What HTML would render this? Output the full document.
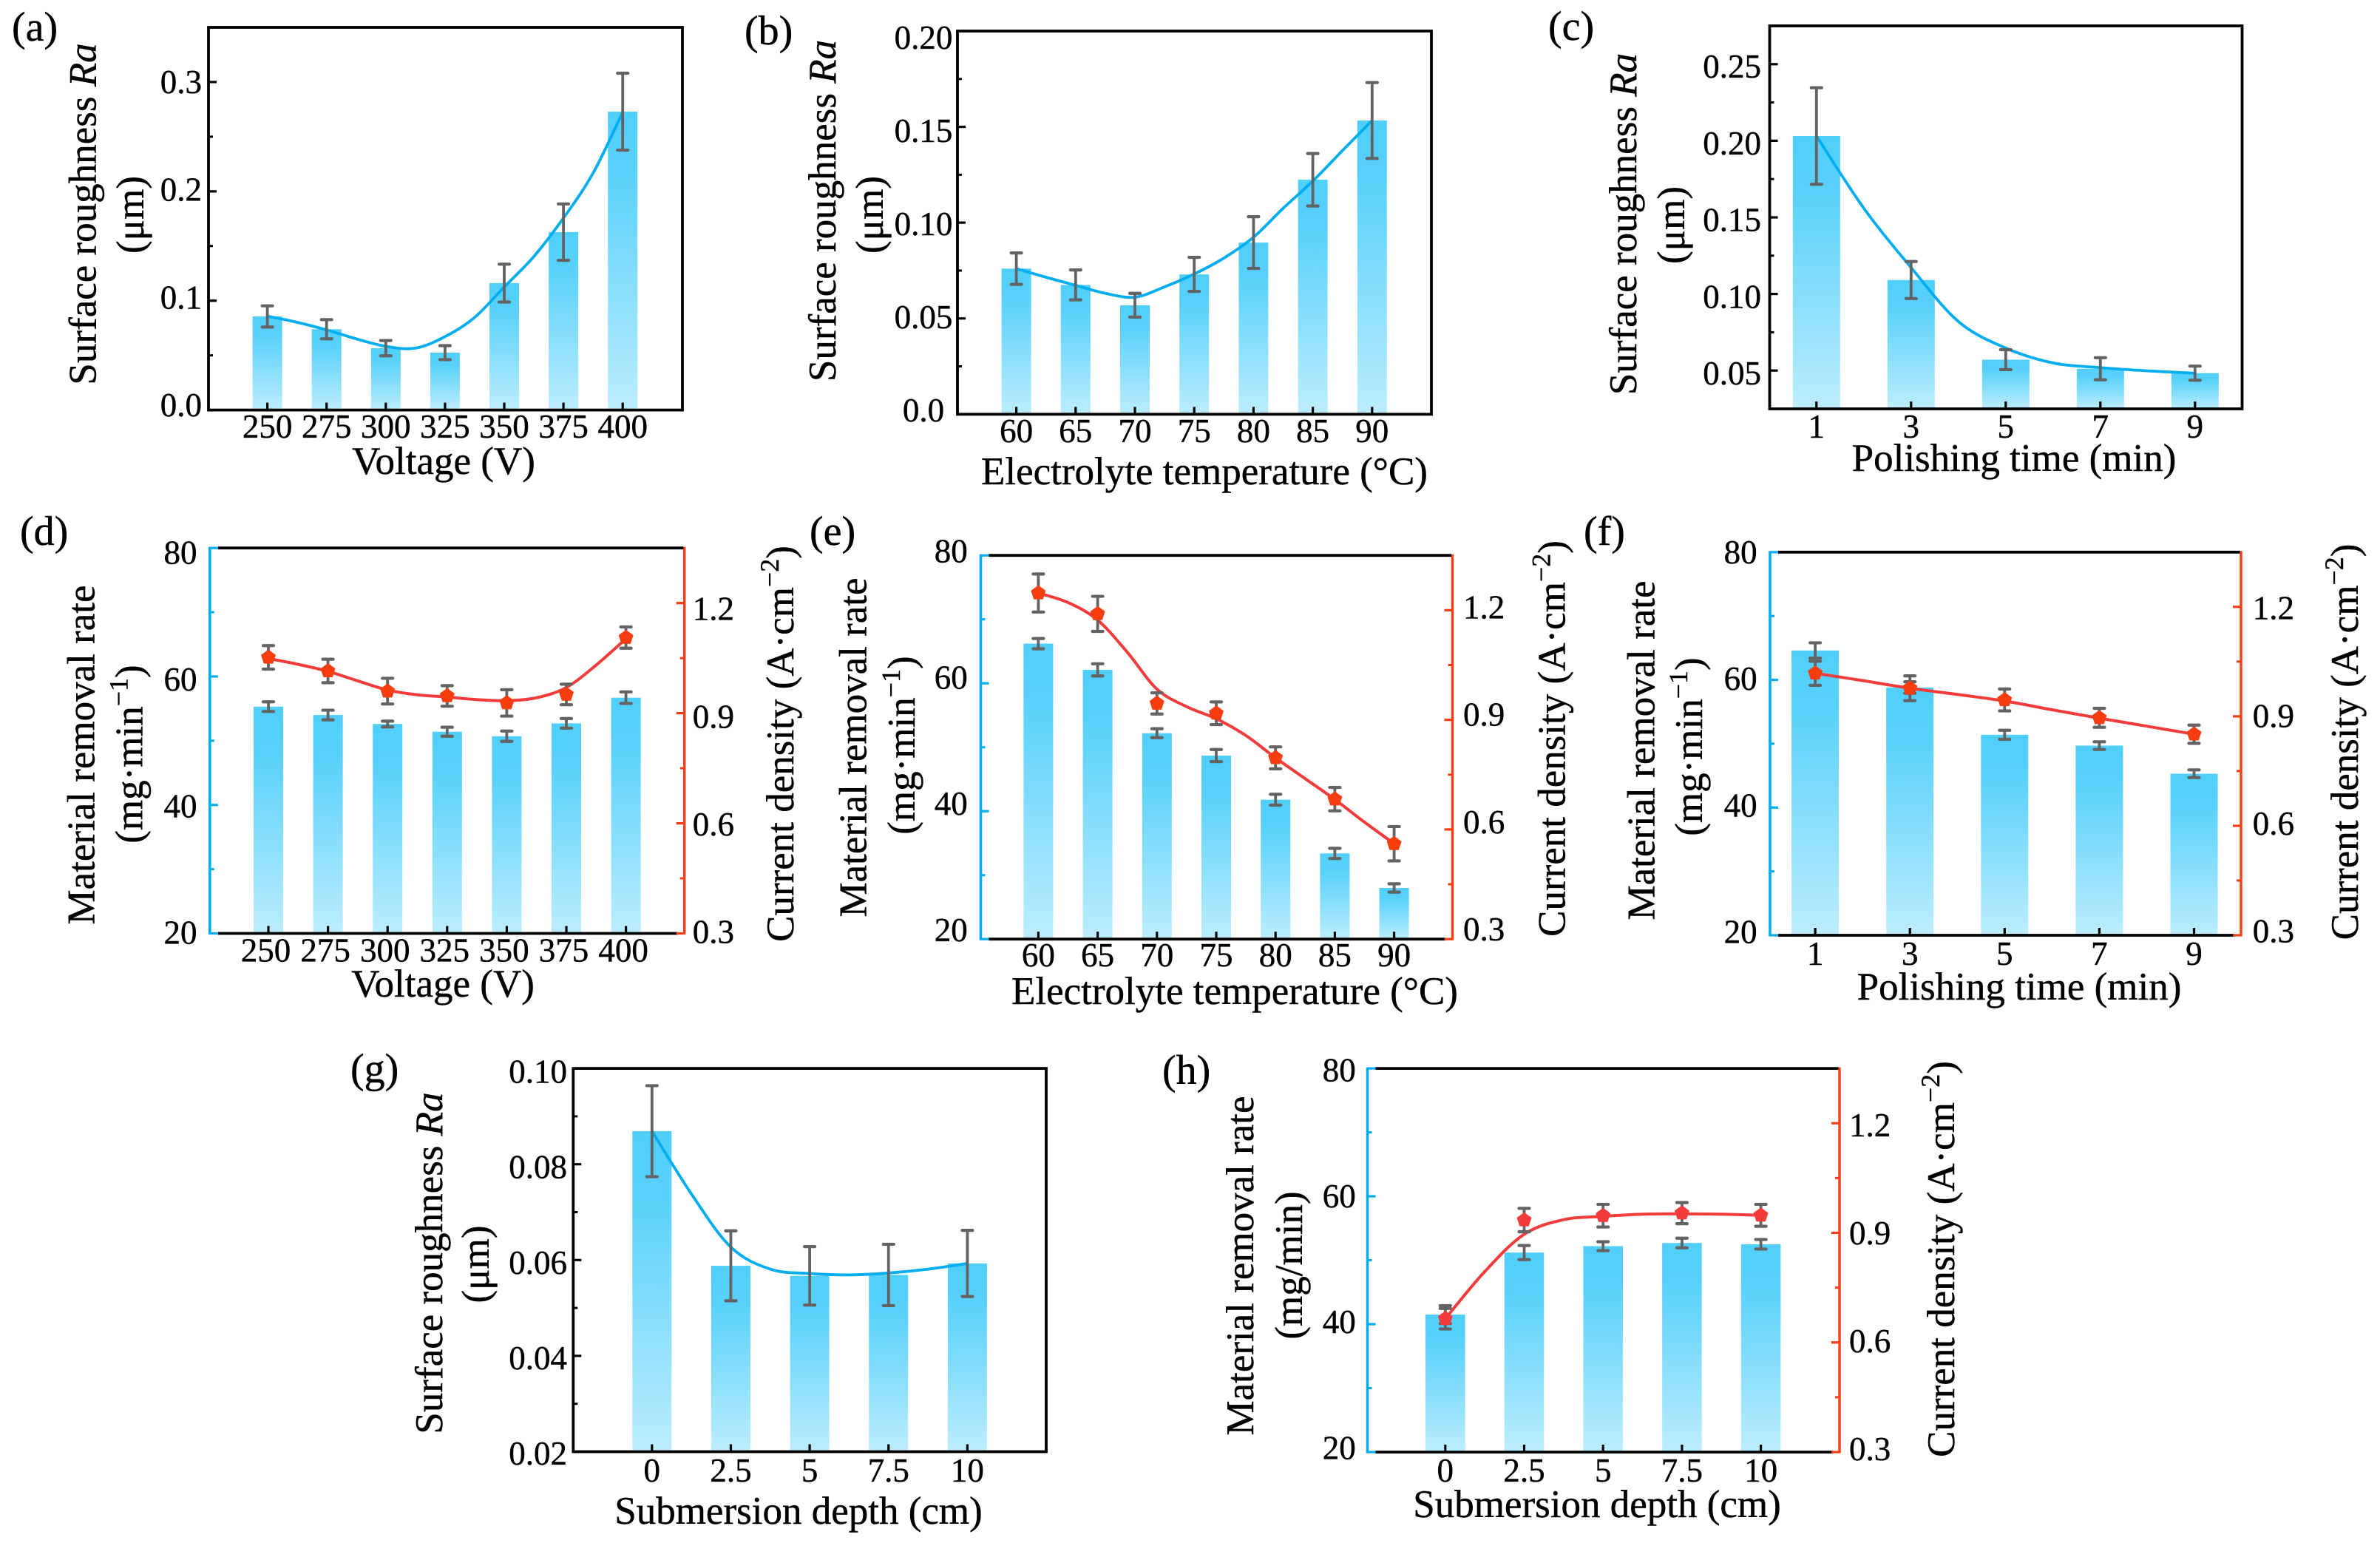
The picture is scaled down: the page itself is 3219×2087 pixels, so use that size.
<!DOCTYPE html>
<html lang="en">
<head>
<meta charset="utf-8">
<title>Surface roughness, material removal rate and current density panels</title>
<style>
html,body{margin:0;padding:0;background:#fff;}
svg{display:block;}
text{font-family:"Liberation Serif","DejaVu Serif",serif;fill:#000;stroke:#000;stroke-width:0.45px;}
.tick{font-size:45px;}
.title{font-size:53px;text-anchor:middle;}
.panel-tag{font-size:56px;}
.sup{font-size:36px;}
</style>
</head>
<body>
<svg id="fig" xmlns="http://www.w3.org/2000/svg" width="3219" height="2087" viewBox="0 0 3219 2087">
<defs>
<linearGradient id="barFill" x1="0" y1="0" x2="0" y2="1">
<stop offset="0" stop-color="#50CFFB"/>
<stop offset="0.2" stop-color="#58D1FB"/>
<stop offset="1" stop-color="#BCEDFE"/>
</linearGradient>
</defs>
<rect x="0" y="0" width="3219" height="2087" fill="#fff"/>

<g id="panel-a"></g>
<g id="panel-b"></g>
<g id="panel-c"></g>
<g id="panel-d"></g>
<g id="panel-e"></g>
<g id="panel-f"></g>
<g id="panel-g"></g>
<g id="panel-h"></g>

<!-- panel tags -->
<text class="panel-tag" x="16" y="55">(a)</text>
<text class="panel-tag" x="1007" y="60">(b)</text>
<text class="panel-tag" x="2094" y="54">(c)</text>
<text class="panel-tag" x="27" y="737">(d)</text>
<text class="panel-tag" x="1095" y="737">(e)</text>
<text class="panel-tag" x="2142" y="737">(f)</text>
<text class="panel-tag" x="474" y="1464">(g)</text>
<text class="panel-tag" x="1572" y="1466">(h)</text>

<!-- x axis titles -->
<text class="title" x="600" y="641">Voltage (V)</text>
<text class="title" x="1629" y="655">Electrolyte temperature (°C)</text>
<text class="title" x="2724" y="637">Polishing time (min)</text>
<text class="title" x="599" y="1348">Voltage (V)</text>
<text class="title" x="1670" y="1358">Electrolyte temperature (°C)</text>
<text class="title" x="2731" y="1352">Polishing time (min)</text>
<text class="title" x="1080" y="2061">Submersion depth (cm)</text>
<text class="title" x="2160" y="2052">Submersion depth (cm)</text>

<!-- y axis titles -->
<text class="title" transform="translate(129.5,289.5) rotate(-90)">Surface roughness <tspan font-style="italic">Ra</tspan></text>
<text class="title" transform="translate(194,290.5) rotate(-90)">(μm)</text>
<text class="title" transform="translate(1130,285) rotate(-90)">Surface roughness <tspan font-style="italic">Ra</tspan></text>
<text class="title" transform="translate(1194,290.5) rotate(-90)">(μm)</text>
<text class="title" transform="translate(2213,303) rotate(-90)">Surface roughness <tspan font-style="italic">Ra</tspan></text>
<text class="title" transform="translate(2278,304.5) rotate(-90)">(μm)</text>

<text class="title" transform="translate(127.5,1021) rotate(-90)">Material removal rate</text>
<text class="title" transform="translate(192.5,1020) rotate(-90)">(mg·min<tspan class="sup" dy="-20">−1</tspan><tspan dy="20">)</tspan></text>
<text class="title" transform="translate(1073,1006) rotate(-90)">Current density (A·cm<tspan class="sup" dy="-20">−2</tspan><tspan dy="20">)</tspan></text>

<text class="title" transform="translate(1171.5,1011) rotate(-90)">Material removal rate</text>
<text class="title" transform="translate(1237,1008) rotate(-90)">(mg·min<tspan class="sup" dy="-20">−1</tspan><tspan dy="20">)</tspan></text>
<text class="title" transform="translate(2116.5,999) rotate(-90)">Current density (A·cm<tspan class="sup" dy="-20">−2</tspan><tspan dy="20">)</tspan></text>

<text class="title" transform="translate(2237.5,1015) rotate(-90)">Material removal rate</text>
<text class="title" transform="translate(2302,1010) rotate(-90)">(mg·min<tspan class="sup" dy="-20">−1</tspan><tspan dy="20">)</tspan></text>
<text class="title" transform="translate(3189,1003.5) rotate(-90)">Current density (A·cm<tspan class="sup" dy="-20">−2</tspan><tspan dy="20">)</tspan></text>

<text class="title" transform="translate(598,1708.5) rotate(-90)">Surface roughness <tspan font-style="italic">Ra</tspan></text>
<text class="title" transform="translate(661,1710) rotate(-90)">(μm)</text>

<text class="title" transform="translate(1695,1712) rotate(-90)">Material removal rate</text>
<text class="title" transform="translate(1761,1711.5) rotate(-90)">(mg/min)</text>
<text class="title" transform="translate(2643,1703) rotate(-90)">Current density (A·cm<tspan class="sup" dy="-20">−2</tspan><tspan dy="20">)</tspan></text>
</svg>

<script>
// ---------- Panel (a) ----------
const aCategories = ['250','275','300','325','350','375','400'];
const aBars = [0.0856,0.0739,0.0566,0.0525,0.1161,0.1627,0.2729];
const aBarErr = [0.0097,0.0088,0.0070,0.0064,0.0173,0.0258,0.0352];
const aFit = [0.0859,0.0803,0.0733,0.0651,0.0583,0.0566,0.0671,0.0847,0.1126,0.1404,0.1756,0.2167,0.2723];
const aTicks = ['0.0','0.1','0.2','0.3'];
const aMinor = [0.05,0.15,0.25];

// ---------- Panel (b) ----------
const bCategories = ['60','65','70','75','80','85','90'];
const bBars = [0.0760,0.0675,0.0569,0.0730,0.0896,0.1224,0.1533];
const bBarErr = [0.0082,0.0078,0.0062,0.0089,0.0135,0.0137,0.0198];
const bFit = [0.0760,0.0715,0.0673,0.0631,0.0611,0.0665,0.0732,0.0815,0.0924,0.1075,0.1217,0.1376,0.1533];
const bTicks = ['0.0','0.05','0.10','0.15','0.20'];
const bMinor = [0.025,0.075,0.125,0.175];

// ---------- Panel (c) ----------
const cCategories = ['1','3','5','7','9'];
const cBars = [0.2031,0.1091,0.0571,0.0512,0.0483];
const cBarErr = [0.0315,0.0121,0.0065,0.0072,0.0046];
const cFit = [0.2031,0.1560,0.1172,0.0820,0.0647,0.0550,0.0519,0.0498,0.0483];
const cTicks = ['0.05','0.10','0.15','0.20','0.25'];
const cMinor = [0.075,0.125,0.175,0.225];

// ---------- Panel (d) ----------
const dCategories = ['250','275','300','325','350','375','400'];
const dBars = [55.3,54.0,52.6,51.4,50.7,52.7,56.7];
const dBarErr = [0.75,0.75,0.45,0.7,0.8,0.75,0.9];
const dPoints = [1.052,1.015,0.960,0.947,0.928,0.951,1.106];
const dPointErr = [0.032,0.032,0.035,0.028,0.036,0.028,0.029];
const dFit = [1.049,1.033,1.014,0.988,0.963,0.950,0.944,0.937,0.934,0.942,0.970,1.031,1.103];

// ---------- Panel (e) ----------
const eCategories = ['60','65','70','75','80','85','90'];
const eBars = [66.2,62.1,52.2,48.7,41.8,33.4,28.0];
const eBarErr = [0.8,0.95,0.7,0.95,0.85,0.8,0.65];
const ePoints = [1.247,1.190,0.945,0.918,0.796,0.683,0.561];
const ePointErr = [0.052,0.048,0.029,0.031,0.030,0.032,0.047];
const eFit = [1.247,1.221,1.173,1.085,0.984,0.936,0.903,0.857,0.796,0.739,0.682,0.620,0.561];

// ---------- Panel (f) ----------
const fCategories = ['1','3','5','7','9'];
const fBars = [64.6,58.8,51.4,49.7,45.3];
const fBarErr = [1.2,0.9,0.7,0.6,0.6];
const fPoints = [1.018,0.977,0.945,0.896,0.851];
const fPointErr = [0.033,0.034,0.030,0.026,0.025];
const fFit = [1.018,0.998,0.977,0.960,0.942,0.918,0.895,0.873,0.851];

// ---------- Panel (g) ----------
const gCategories = ['0','2.5','5','7.5','10'];
const gBars = [0.0869,0.0588,0.0567,0.0569,0.0593];
const gBarErr = [0.0095,0.0073,0.0061,0.0064,0.0069];
const gFit = [0.0869,0.0738,0.0627,0.0581,0.0572,0.0569,0.0573,0.0581,0.0593];
const gTicks = ['0.02','0.04','0.06','0.08','0.10'];
const gMinor = [0.03,0.05,0.07,0.09];

// ---------- Panel (h) ----------
const hCategories = ['0','2.5','5','7.5','10'];
const hBars = [41.5,51.2,52.2,52.7,52.5];
const hBarErr = [1.4,1.1,0.7,0.75,0.75];
const hPoints = [0.665,0.935,0.947,0.954,0.948];
const hPointErr = [0.028,0.032,0.031,0.029,0.030];
const hFit = [0.665,0.794,0.896,0.936,0.945,0.951,0.952,0.951,0.948];

// ---------- Shared dual-axis ticks ----------
const mrrTicks = ['20','40','60','80'];
const mrrMinor = [30,50,70];
const currentTicks = ['0.3','0.6','0.9','1.2'];
const currentMinor = [0.45,0.75,1.05];

const BLUE = '#00AEEF';
const RED_AXIS = '#F63D14';
const RED_LINE = '#F43B3B';
const MARKER = '#F53D10';
const GREY = '#636363';
const NS = 'http://www.w3.org/2000/svg';

function add(parent, tag, attrs) {
  const el = document.createElementNS(NS, tag);
  for (const k in attrs) el.setAttribute(k, attrs[k]);
  parent.appendChild(el);
  return el;
}

function smoothPath(pts) {
  let d = 'M' + pts[0][0].toFixed(2) + ' ' + pts[0][1].toFixed(2);
  for (let i = 0; i < pts.length - 1; i++) {
    const p0 = pts[Math.max(i - 1, 0)], p1 = pts[i], p2 = pts[i + 1], p3 = pts[Math.min(i + 2, pts.length - 1)];
    const c1x = p1[0] + (p2[0] - p0[0]) / 6, c1y = p1[1] + (p2[1] - p0[1]) / 6;
    const c2x = p2[0] - (p3[0] - p1[0]) / 6, c2y = p2[1] - (p3[1] - p1[1]) / 6;
    d += 'C' + c1x.toFixed(2) + ' ' + c1y.toFixed(2) + ' ' + c2x.toFixed(2) + ' ' + c2y.toFixed(2) + ' ' + p2[0].toFixed(2) + ' ' + p2[1].toFixed(2);
  }
  return d;
}

function linearScale(dMin, dMax, pMin, pMax) {
  return function (v) { return pMin + (v - dMin) / (dMax - dMin) * (pMax - pMin); };
}

function drawError(g, x, yScale, v, e, nameText) {
  const yTop = yScale(v + e), yBot = yScale(v - e);
  const stem = add(g, 'line', {x1: x, x2: x, y1: yTop, y2: yBot, stroke: GREY, 'stroke-width': 3.8});
  
  
  const capA = add(g, 'line', {x1: x - 7, x2: x + 7, y1: yTop, y2: yTop, stroke: GREY, 'stroke-width': 4.2, 'stroke-linecap': 'round'});
  
  
  const capB = add(g, 'line', {x1: x - 7, x2: x + 7, y1: yBot, y2: yBot, stroke: GREY, 'stroke-width': 4.2, 'stroke-linecap': 'round'});
  
  
}

function drawYAxis(g, cfg, scale, labels, minors, side, color) {
  const n = labels.length;
  const inward = side === 'left' ? 1 : -1;
  const axisX = side === 'left' ? cfg.l : cfg.r;
  labels.forEach(function (lab, i) {
    const v = parseFloat(lab);
    const y = scale(v);
    const tk = add(g, 'line', {x1: axisX, x2: axisX + inward * 11, y1: y, y2: y, stroke: color, 'stroke-width': 3.2});
    
    
    const centers = side === 'left' ? cfg.labelCenters : cfg.rightLabelCenters;
    const cy = centers[0] + (centers[1] - centers[0]) * i / (n - 1);
    const t = add(g, 'text', {'class': 'tick', y: cy + 15});
    if (side === 'left') {
      t.setAttribute('x', cfg.labelX);
      t.setAttribute('text-anchor', cfg.labelAnchor || 'end');
    } else {
      t.setAttribute('x', cfg.rightLabelX);
      t.setAttribute('text-anchor', 'start');
    }
    t.textContent = lab;
    
    
  });
  minors.forEach(function (v) {
    const y = scale(v);
    const tk = add(g, 'line', {x1: axisX, x2: axisX + inward * 6, y1: y, y2: y, stroke: color, 'stroke-width': 3});
    
    
  });
}

function drawPanel(cfg) {
  const g = document.getElementById(cfg.id);
  const x = function (i) { return cfg.xFirst + i * cfg.xStep; };
  const yL = linearScale(cfg.yLim[0], cfg.yLim[1], cfg.b, cfg.t);
  const yR = cfg.rLim ? linearScale(cfg.rLim[0], cfg.rLim[1], cfg.b, cfg.t) : null;

  cfg.bars.forEach(function (v, i) {
    const top = yL(v);
    const r = add(g, 'rect', {x: x(i) - cfg.barW / 2, y: top, width: cfg.barW, height: cfg.b - top, fill: 'url(#barFill)'});
    
    
  });

  const curveScale = yR || yL;
  const fitPts = cfg.fit.map(function (v, i) { return [x(i / 2), curveScale(v)]; });
  const curve = add(g, 'path', {d: smoothPath(fitPts), fill: 'none', stroke: yR ? RED_LINE : BLUE, 'stroke-width': yR ? 4 : 3.8, 'stroke-linecap': 'round'});
  
  

  cfg.bars.forEach(function (v, i) {
    drawError(g, x(i), yL, v, cfg.barErr[i], 'bar-error');
  });

  if (yR) {
    cfg.points.forEach(function (v, i) {
      drawError(g, x(i), yR, v, cfg.pointErr[i], 'point-error');
    });
    cfg.points.forEach(function (v, i) {
      const cx = x(i), cy = yR(v), rad = 10.5, pts = [];
      for (let k = 0; k < 5; k++) {
        const a = -Math.PI / 2 + k * 2 * Math.PI / 5;
        pts.push((cx + rad * Math.cos(a)).toFixed(2) + ',' + (cy + rad * Math.sin(a)).toFixed(2));
      }
      const m = add(g, 'polygon', {points: pts.join(' '), fill: cfg.markerColor || MARKER});
      
      
    });
  }

  // x ticks and labels
  cfg.categories.forEach(function (c, i) {
    const tk = add(g, 'line', {x1: x(i), x2: x(i), y1: cfg.b, y2: cfg.b - 10, stroke: '#000', 'stroke-width': 3.2});
    
    
    const t = add(g, 'text', {'class': 'tick', x: x(i) + (cfg.xLabelShift || 0), y: cfg.xLabelY, 'text-anchor': 'middle'});
    t.textContent = c;
    
    
  });

  if (yR) {
    const blue = add(g, 'line', {x1: cfg.l, x2: cfg.l, y1: cfg.t - 1.5, y2: cfg.b + 1.5, stroke: BLUE, 'stroke-width': 3.6});
    
    
    const red = add(g, 'line', {x1: cfg.r, x2: cfg.r, y1: cfg.t - 1.5, y2: cfg.b + 1.5, stroke: RED_AXIS, 'stroke-width': 3.4});
    
    
    const topLine = add(g, 'line', {x1: cfg.l + 11, x2: cfg.r - 1.5, y1: cfg.t, y2: cfg.t, stroke: '#000', 'stroke-width': 3.8});
    
    
    const botLine = add(g, 'line', {x1: cfg.l + 11, x2: cfg.r - 9, y1: cfg.b, y2: cfg.b, stroke: '#000', 'stroke-width': 3.8});
    
    
    drawYAxis(g, cfg, yL, cfg.ticks, cfg.minor, 'left', BLUE);
    drawYAxis(g, cfg, yR, cfg.rTicks, cfg.rMinor, 'right', RED_AXIS);
  } else {
    const frame = add(g, 'rect', {x: cfg.l, y: cfg.t, width: cfg.r - cfg.l, height: cfg.b - cfg.t, fill: 'none', stroke: '#000', 'stroke-width': 3.8});
    
    
    drawYAxis(g, cfg, yL, cfg.ticks, cfg.minor, 'left', '#000');
  }
}

drawPanel({id: 'panel-a', l: 282, r: 923, t: 37, b: 554.6, xFirst: 361.6, xStep: 80.1, barW: 40,
  yLim: [0, 0.35], categories: aCategories, bars: aBars, barErr: aBarErr, fit: aFit, ticks: aTicks, minor: aMinor,
  labelX: 273, labelCenters: [548, 111], xLabelY: 592});
drawPanel({id: 'panel-b', l: 1295, r: 1936, t: 42, b: 560.3, xFirst: 1374.6, xStep: 80.2, barW: 40,
  yLim: [0, 0.2], categories: bCategories, bars: bBars, barErr: bBarErr, fit: bFit, ticks: bTicks, minor: bMinor,
  labelX: 1249, labelAnchor: 'middle', labelCenters: [555, 51.2], xLabelY: 598});
drawPanel({id: 'panel-c', l: 2393.5, r: 3032.5, t: 35, b: 553, xFirst: 2456.8, xStep: 128, barW: 64,
  yLim: [0.025, 0.275], categories: cCategories, bars: cBars, barErr: cBarErr, fit: cFit, ticks: cTicks, minor: cMinor,
  labelX: 2382, labelCenters: [505.2, 90.2], xLabelY: 592});
drawPanel({id: 'panel-d', l: 283.8, r: 925.7, t: 741.2, b: 1262.5, xFirst: 363, xStep: 80.6, barW: 40, xLabelShift: -3.5,
  yLim: [20, 80], rLim: [0.3, 1.35], categories: dCategories, bars: dBars, barErr: dBarErr, fit: dFit,
  points: dPoints, pointErr: dPointErr, ticks: mrrTicks, minor: mrrMinor, rTicks: currentTicks, rMinor: currentMinor,
  labelX: 266.5, labelCenters: [1261.6, 747.7], rightLabelX: 936.7, rightLabelCenters: [1260.7, 823.6], xLabelY: 1300.5});
drawPanel({id: 'panel-e', l: 1326.5, r: 1964.5, t: 751.2, b: 1270.2, xFirst: 1404.4, xStep: 80.2, barW: 40,
  yLim: [20, 80], rLim: [0.3, 1.35], categories: eCategories, bars: eBars, barErr: eBarErr, fit: eFit,
  points: ePoints, pointErr: ePointErr, ticks: mrrTicks, minor: mrrMinor, rTicks: currentTicks, rMinor: currentMinor,
  labelX: 1308.7, labelCenters: [1258.1, 745.5], rightLabelX: 1979, rightLabelCenters: [1257.2, 821.4], xLabelY: 1307});
drawPanel({id: 'panel-f', l: 2394, r: 3031, t: 746.8, b: 1265, xFirst: 2455.1, xStep: 128.1, barW: 64,
  yLim: [20, 80], rLim: [0.3, 1.35], categories: fCategories, bars: fBars, barErr: fBarErr, fit: fFit,
  points: fPoints, pointErr: fPointErr, ticks: mrrTicks, minor: mrrMinor, rTicks: currentTicks, rMinor: currentMinor,
  labelX: 2376.6, labelCenters: [1260.7, 746.8], rightLabelX: 3046.8, rightLabelCenters: [1259.4, 822.7], xLabelY: 1305});
drawPanel({id: 'panel-g', l: 775.3, r: 1415, t: 1445.1, b: 1963.5, xFirst: 881.8, xStep: 106.65, barW: 53,
  yLim: [0.02, 0.10], categories: gCategories, bars: gBars, barErr: gBarErr, fit: gFit, ticks: gTicks, minor: gMinor,
  labelX: 767, labelCenters: [1966.2, 1449.5], xLabelY: 2004});
drawPanel({id: 'panel-h', l: 1849.5, r: 2488, t: 1445.1, b: 1964, xFirst: 1954.8, xStep: 106.7, barW: 53.5, markerColor: '#F43B3B',
  yLim: [20, 80], rLim: [0.3, 1.35], categories: hCategories, bars: hBars, barErr: hBarErr, fit: hFit,
  points: hPoints, pointErr: hPointErr, ticks: mrrTicks, minor: mrrMinor, rTicks: currentTicks, rMinor: currentMinor,
  labelX: 1833.8, labelCenters: [1958.7, 1447.3], rightLabelX: 2501, rightLabelCenters: [1960, 1521.8], xLabelY: 2004});
</script>
</body>
</html>
